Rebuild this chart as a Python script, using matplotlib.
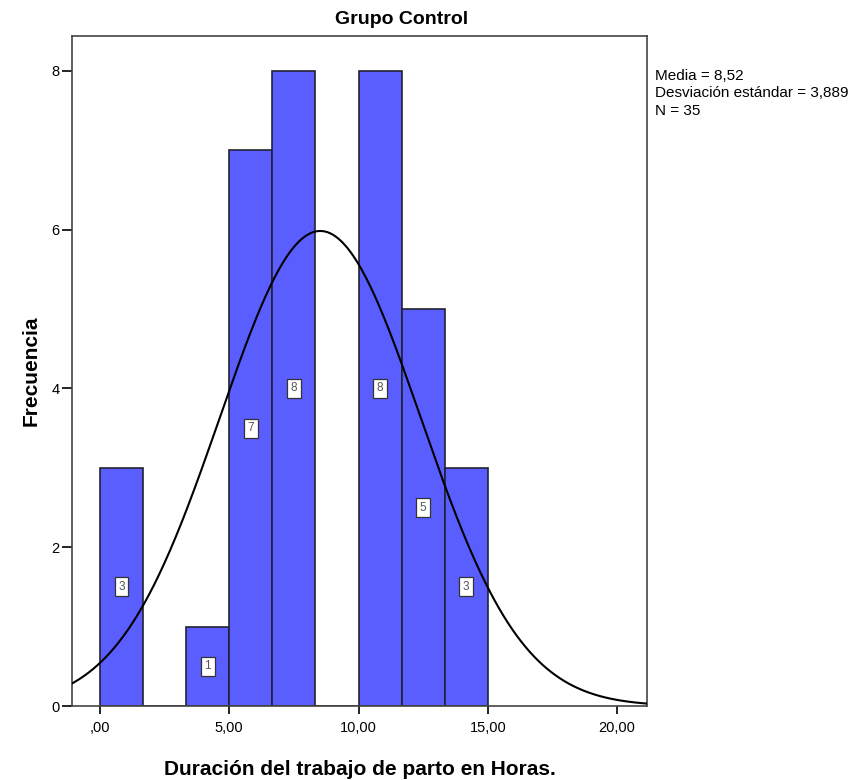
import numpy as np
import matplotlib
matplotlib.use("Agg")
import matplotlib.pyplot as plt

# Data
bin_edges = [0.0, 1.6667, 3.3333, 5.0, 6.6667, 8.3333, 10.0, 11.6667, 13.3333, 15.0]
counts = [3, 0, 1, 7, 8, 0, 8, 5, 3]
x_ticks = [0, 5, 10, 15, 20]
x_tick_labels = [",00", "5,00", "10,00", "15,00", "20,00"]
y_ticks = [0, 2, 4, 6, 8]
mean_val = 8.52
std_val = 3.889
n_val = 35
stats_lines = ["Media = 8,52", "Desviación estándar = 3,889", "N = 35"]

plt.rcParams['font.family'] = ['Liberation Sans', 'DejaVu Sans']

fig = plt.figure(figsize=(8.63, 7.8), dpi=100)
ax = fig.add_axes([72/863, 1-706/780, (647-72)/863, (706-36)/780])

widths = np.diff(bin_edges)
lefts = np.array(bin_edges[:-1])
ax.bar(lefts, counts, width=widths, align='edge', color='#5A5EFF',
       edgecolor='#222233', linewidth=1.2, zorder=2)

for l, w, c in zip(lefts, widths, counts):
    if c > 0:
        ax.text(l + w/2, c/2, str(c), ha='center', va='center', fontsize=8.5,
                color='#555555', zorder=4,
                bbox=dict(boxstyle='square,pad=0.3', facecolor='white',
                          edgecolor='#333333', linewidth=0.9))

xs = np.linspace(-1.1, 21.2, 400)
bw = bin_edges[1] - bin_edges[0]
ys = n_val * bw * np.exp(-0.5*((xs-mean_val)/std_val)**2) / (std_val*np.sqrt(2*np.pi))
ax.plot(xs, ys, color='black', linewidth=1.5, zorder=3)

ax.set_xlim(-1.083, 21.16)
ax.set_ylim(0, 8.44)
ax.set_xticks(x_ticks)
ax.set_xticklabels(x_tick_labels, fontsize=10.5)
ax.set_yticks(y_ticks)
ax.set_yticklabels([str(v) for v in y_ticks], fontsize=10.5)
ax.tick_params(axis='x', direction='out', length=6, width=1.2, pad=5)
ax.tick_params(axis='y', direction='out', length=7, width=1.2, pad=2)
for s in ax.spines.values():
    s.set_linewidth(1.2)
    s.set_color('#444444')

fig.text(402/863, 1-19/780, "Grupo Control", fontsize=14, fontweight='bold',
         ha='center', va='center')
ax.set_xlabel("Duración del trabajo de parto en Horas.", fontsize=15, fontweight='bold', labelpad=18)
ax.set_ylabel("Frecuencia", fontsize=15, fontweight='bold', labelpad=8)

fig.text(655/863, 1-69/780, "\n".join(stats_lines), fontsize=11, va='top', ha='left',
         linespacing=1.3)

fig.savefig("out.png", dpi=100)
